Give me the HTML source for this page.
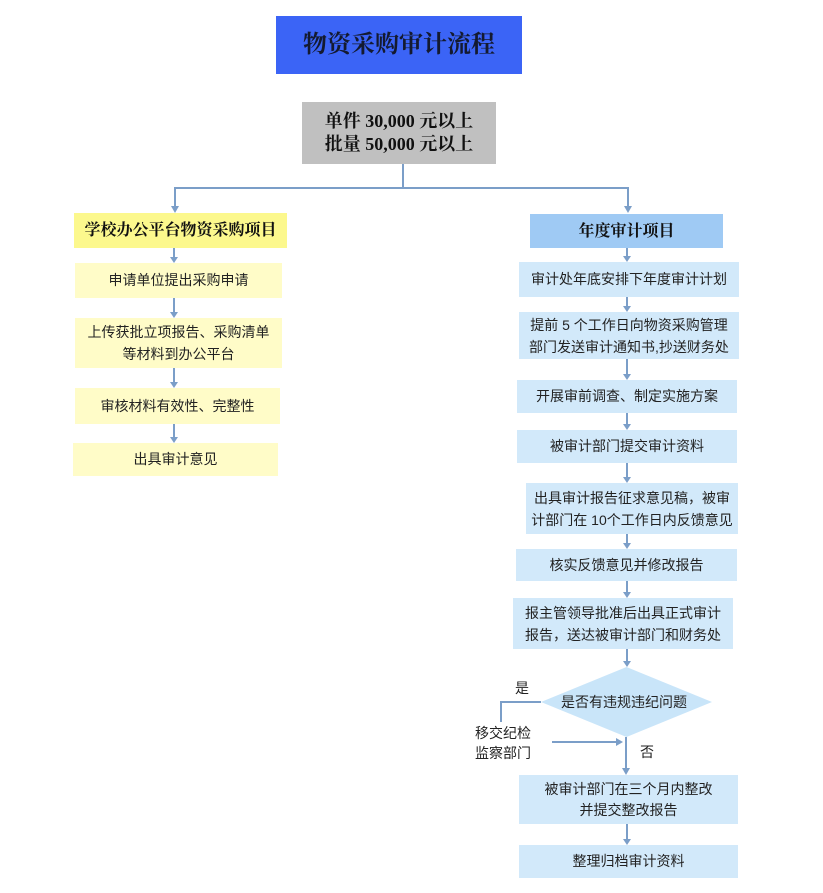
<!DOCTYPE html>
<html><head><meta charset="utf-8">
<style>
html,body{margin:0;padding:0;background:#fff;}
body{width:823px;height:893px;position:relative;overflow:hidden;font-family:"Liberation Sans","Noto Sans CJK SC",sans-serif;}
.b{position:absolute;display:flex;align-items:center;justify-content:center;text-align:center;color:#222;font-size:14px;line-height:21px;white-space:nowrap;}
.y{background:#fffcc8;}
.bl{background:#d2e9fa;}
.t{position:absolute;font-size:14px;color:#222;white-space:nowrap;line-height:20px;}
svg{position:absolute;left:0;top:0;}
</style></head><body>
<div class="b" style="left:276px;top:16px;width:246px;height:58px;background:#3b64f6;color:#141a30;font-family:'Liberation Serif','Noto Serif CJK SC',serif;font-weight:bold;font-size:24px;letter-spacing:0px;">物资采购审计流程</div>
<div class="b" style="left:302px;top:102px;width:194px;height:62px;background:#c0c0c0;color:#111;font-family:'Liberation Serif','Noto Serif CJK SC',serif;font-weight:bold;font-size:18px;line-height:23px;">单件 30,000 元以上<br>批量 50,000 元以上</div>

<div class="b" style="left:74px;top:213px;width:213px;height:35px;background:#fcf88d;font-weight:bold;font-size:16px;color:#111;font-family:'Liberation Serif','Noto Serif CJK SC',serif;">学校办公平台物资采购项目</div>
<div class="b y" style="left:75px;top:263px;width:207px;height:35px;">申请单位提出采购申请</div>
<div class="b y" style="left:75px;top:318px;width:207px;height:50px;line-height:22px;">上传获批立项报告、采购清单<br>等材料到办公平台</div>
<div class="b y" style="left:75px;top:388px;width:205px;height:36px;">审核材料有效性、完整性</div>
<div class="b y" style="left:73px;top:443px;width:205px;height:33px;">出具审计意见</div>

<div class="b" style="left:530px;top:214px;width:193px;height:34px;background:#9fcaf4;font-weight:bold;font-size:16px;color:#111;font-family:'Liberation Serif','Noto Serif CJK SC',serif;">年度审计项目</div>
<div class="b bl" style="left:519px;top:262px;width:220px;height:35px;">审计处年底安排下年度审计计划</div>
<div class="b bl" style="left:519px;top:312px;width:220px;height:47px;line-height:22px;">提前 5 个工作日向物资采购管理<br>部门发送审计通知书,抄送财务处</div>
<div class="b bl" style="left:517px;top:380px;width:220px;height:33px;">开展审前调查、制定实施方案</div>
<div class="b bl" style="left:517px;top:430px;width:220px;height:33px;">被审计部门提交审计资料</div>
<div class="b bl" style="left:526px;top:483px;width:212px;height:51px;line-height:22px;">出具审计报告征求意见稿，被审<br>计部门在 10个工作日内反馈意见</div>
<div class="b bl" style="left:516px;top:549px;width:221px;height:32px;">核实反馈意见并修改报告</div>
<div class="b bl" style="left:513px;top:598px;width:220px;height:51px;line-height:22px;">报主管领导批准后出具正式审计<br>报告，送达被审计部门和财务处</div>
<div class="b bl" style="left:519px;top:775px;width:219px;height:49px;line-height:21px;">被审计部门在三个月内整改<br>并提交整改报告</div>
<div class="b bl" style="left:519px;top:845px;width:219px;height:33px;">整理归档审计资料</div>

<svg width="823" height="893" viewBox="0 0 823 893">
<polygon points="541,702 626.5,667 712,702 626.5,737" fill="#c9e5f9"/>
<g stroke="#7b9ec8" stroke-width="2" fill="none">
<line x1="403" y1="164" x2="403" y2="188"/>
<polyline points="175,207 175,188 628,188 628,207"/>
<line x1="174" y1="248" x2="174" y2="258"/>
<line x1="174" y1="298" x2="174" y2="313"/>
<line x1="174" y1="368" x2="174" y2="383"/>
<line x1="174" y1="424" x2="174" y2="438"/>
<line x1="627" y1="248" x2="627" y2="257"/>
<line x1="627" y1="297" x2="627" y2="307"/>
<line x1="627" y1="359" x2="627" y2="375"/>
<line x1="627" y1="413" x2="627" y2="425"/>
<line x1="627" y1="463" x2="627" y2="478"/>
<line x1="627" y1="534" x2="627" y2="544"/>
<line x1="627" y1="581" x2="627" y2="593"/>
<line x1="627" y1="649" x2="627" y2="662"/>
<line x1="626" y1="737" x2="626" y2="769"/>
<line x1="627" y1="824" x2="627" y2="840"/>
<polyline points="501,722 501,702 541,702"/>
<line x1="552" y1="742" x2="617" y2="742"/>
</g>
<g fill="#7b9ec8">
<polygon points="171,206 179,206 175,213"/>
<polygon points="624,206 632,206 628,213"/>
<polygon points="170,257 178,257 174,263"/>
<polygon points="170,312 178,312 174,318"/>
<polygon points="170,382 178,382 174,388"/>
<polygon points="170,437 178,437 174,443"/>
<polygon points="623,256 631,256 627,262"/>
<polygon points="623,306 631,306 627,312"/>
<polygon points="623,374 631,374 627,380"/>
<polygon points="623,424 631,424 627,430"/>
<polygon points="623,477 631,477 627,483"/>
<polygon points="623,543 631,543 627,549"/>
<polygon points="623,592 631,592 627,598"/>
<polygon points="623,661 631,661 627,667"/>
<polygon points="622,768 630,768 626,775"/>
<polygon points="623,839 631,839 627,845"/>
<polygon points="616,738 616,746 623,742"/>
</g>
</svg>
<div class="t" style="left:561px;top:692px;">是否有违规违纪问题</div>
<div class="t" style="left:515px;top:678px;">是</div>
<div class="t" style="left:475px;top:723px;">移交纪检</div>
<div class="t" style="left:475px;top:743px;">监察部门</div>
<div class="t" style="left:640px;top:742px;">否</div>
</body></html>
